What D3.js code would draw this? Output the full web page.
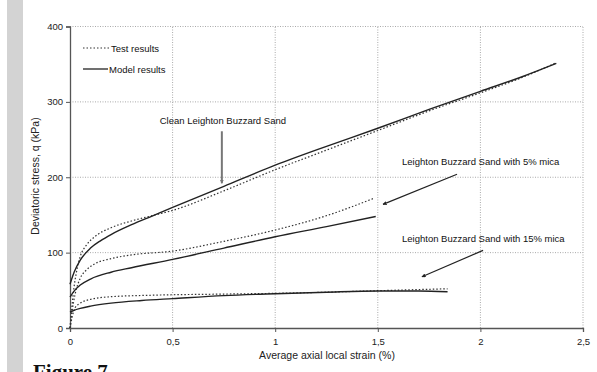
<!DOCTYPE html>
<html>
<head>
<meta charset="utf-8">
<script src="https://cdn.jsdelivr.net/npm/d3@7"></script>
<style>
  body { margin: 0; background: #fff; }
  svg { display: block; font-family: "Liberation Sans", Arial, sans-serif; }
</style>
</head>
<body>
<script>
// tick labels
var xTicks = [0, 0.5, 1, 1.5, 2, 2.5],
    xTickLabels = ["0", "0,5", "1", "1,5", "2", "2,5"],
    yTicks = [0, 100, 200, 300, 400];

// series: [strain %, q kPa]
var cleanModel = [[0,58],[0.02,74],[0.05,90],[0.1,106],[0.15,116],[0.2,124],[0.3,137],[0.4,148.5],[0.5,160],[0.75,188],[1,216],[1.25,241],[1.5,265],[1.75,290],[2,314],[2.2,333],[2.37,351]];
var cleanTest = [[0,0],[0.01,30],[0.02,55],[0.03,72],[0.05,95],[0.08,110],[0.12,121],[0.2,133],[0.3,142],[0.4,149],[0.5,156],[0.75,182],[1,210],[1.25,236],[1.5,262],[1.75,288],[2,312],[2.2,332],[2.37,352]];
var mica5Model = [[0,41],[0.02,49],[0.05,57],[0.1,65],[0.2,74],[0.3,80],[0.5,91],[0.75,106],[1,121],[1.25,134.5],[1.49,148]];
var mica5Test = [[0,0],[0.01,22],[0.025,45],[0.05,66],[0.08,77],[0.12,85],[0.2,92],[0.3,97],[0.5,102],[0.75,115],[1,130],[1.25,149],[1.48,172]];
var mica15Model = [[0,21],[0.02,23.5],[0.05,26],[0.1,29],[0.2,33],[0.35,36.5],[0.5,39],[0.75,43],[1,45.5],[1.25,47.5],[1.5,49],[1.7,49],[1.84,48]];
var mica15Test = [[0,0],[0.01,14],[0.025,27],[0.05,33],[0.1,38],[0.2,41.5],[0.4,43.5],[0.75,45],[1,46],[1.25,47.5],[1.5,49.5],[1.7,51],[1.84,52]];

// annotations: text, text position and arrow [from, to] in data units
var notes = [
    {text: "Clean Leighton Buzzard Sand", at: [0.745, 270], arrow: [[0.74, 261], [0.74, 192]], color: "#777", w: 2},
    {text: "Leighton Buzzard Sand with 5% mica", at: [1.618, 216], arrow: [[1.886, 204], [1.525, 164]], color: "#222", w: 1.2},
    {text: "Leighton Buzzard Sand with 15% mica", at: [1.618, 114], arrow: [[2.013, 103], [1.715, 68]], color: "#222", w: 1.2}
];

var width = 597, height = 372;

var svg = d3.select("body").append("svg")
    .attr("width", width)
    .attr("height", height);

//grey strip on the page edge
svg.append("rect")
    .attr("x", 7).attr("y", 0)
    .attr("width", 16).attr("height", height)
    .attr("fill", "#d3d3d3");

var x = d3.scaleLinear().domain([0, 2.5]).range([70, 583]);
var y = d3.scaleLinear().domain([0, 400]).range([328, 26.5]);

//dotted grid
svg.append("g").selectAll("line")
    .data(xTicks.slice(1))
    .join("line")
    .attr("x1", d => x(d)).attr("x2", d => x(d))
    .attr("y1", y(0)).attr("y2", y(400))
    .attr("stroke", "#aaa").attr("stroke-dasharray", "1,1.5");
svg.append("g").selectAll("line")
    .data(yTicks.slice(1))
    .join("line")
    .attr("x1", x(0)).attr("x2", x(2.5))
    .attr("y1", d => y(d)).attr("y2", d => y(d))
    .attr("stroke", "#aaa").attr("stroke-dasharray", "1,1.5");

//axes
var xAxis = d3.axisBottom(x).tickValues(xTicks)
    .tickFormat((d, i) => xTickLabels[i]).tickSizeOuter(0).tickSize(4).tickPadding(6);
var yAxis = d3.axisLeft(y).tickValues(yTicks).tickSizeOuter(0).tickSize(4).tickPadding(3);

var gx = svg.append("g").attr("transform", "translate(0," + y(0) + ")").call(xAxis);
var gy = svg.append("g").attr("transform", "translate(" + x(0) + ",0)").call(yAxis);
[gx, gy].forEach(function (g) {
    g.select(".domain").attr("stroke", "#555").attr("stroke-width", 1.3);
    g.selectAll(".tick line").attr("stroke", "#555");
    g.selectAll(".tick text").attr("font-size", 9.5).attr("fill", "#222")
        .attr("font-family", "'Liberation Sans', Arial, sans-serif");
});

//curves
var line = d3.line()
    .x(d => x(d[0]))
    .y(d => y(d[1]))
    .curve(d3.curveMonotoneX);

[cleanTest, mica5Test, mica15Test].forEach(function (s) {
    svg.append("path").datum(s).attr("d", line)
        .attr("fill", "none").attr("stroke", "#333")
        .attr("stroke-width", 1.2).attr("stroke-dasharray", "1.5,2");
});
[cleanModel, mica5Model, mica15Model].forEach(function (s) {
    svg.append("path").datum(s).attr("d", line)
        .attr("fill", "none").attr("stroke", "#222").attr("stroke-width", 1.4);
});

//axis titles
svg.append("text")
    .attr("transform", "translate(39,176) rotate(-90)")
    .attr("text-anchor", "middle").attr("font-size", 10.5).attr("fill", "#222")
    .text("Deviatoric stress, q (kPa)");
svg.append("text")
    .attr("x", 327).attr("y", 359)
    .attr("text-anchor", "middle").attr("font-size", 10.5).attr("fill", "#222")
    .text("Average axial local strain (%)");

//legend
var legend = svg.append("g");
legend.append("line").attr("x1", 83).attr("x2", 110).attr("y1", 48).attr("y2", 48)
    .attr("stroke", "#333").attr("stroke-width", 1).attr("stroke-dasharray", "1.5,2");
legend.append("text").attr("x", 111).attr("y", 51.5).attr("font-size", 9.5).attr("fill", "#111").text("Test results");
legend.append("line").attr("x1", 83).attr("x2", 108).attr("y1", 69).attr("y2", 69)
    .attr("stroke", "#222").attr("stroke-width", 1.3);
legend.append("text").attr("x", 109).attr("y", 72.5).attr("font-size", 9.5).attr("fill", "#111").text("Model results");

//annotations
var defs = svg.append("defs");
notes.forEach(function (n, i) {
    defs.append("marker").attr("id", "arr" + i)
        .attr("viewBox", "0 0 10 10").attr("refX", 9).attr("refY", 5)
        .attr("markerWidth", 4).attr("markerHeight", 4).attr("orient", "auto")
        .attr("markerUnits", "userSpaceOnUse")
        .append("path").attr("d", "M0,0L10,5L0,10z").attr("fill", n.color);
    svg.append("text")
        .attr("x", x(n.at[0])).attr("y", y(n.at[1]))
        .attr("text-anchor", i === 0 ? "middle" : "start")
        .attr("font-size", 9.5).attr("fill", "#111").text(n.text);
    svg.append("line")
        .attr("x1", x(n.arrow[0][0])).attr("y1", y(n.arrow[0][1]))
        .attr("x2", x(n.arrow[1][0])).attr("y2", y(n.arrow[1][1]))
        .attr("stroke", n.color).attr("stroke-width", n.w)
        .attr("marker-end", "url(#arr" + i + ")");
});

//caption, cut by the page bottom as in the source
svg.append("text")
    .attr("x", 33).attr("y", 379)
    .attr("font-family", "'Liberation Serif', 'Times New Roman', serif")
    .attr("font-weight", "bold").attr("font-size", 21).attr("fill", "#111")
    .text("Figure 7");
</script>
</body>
</html>
